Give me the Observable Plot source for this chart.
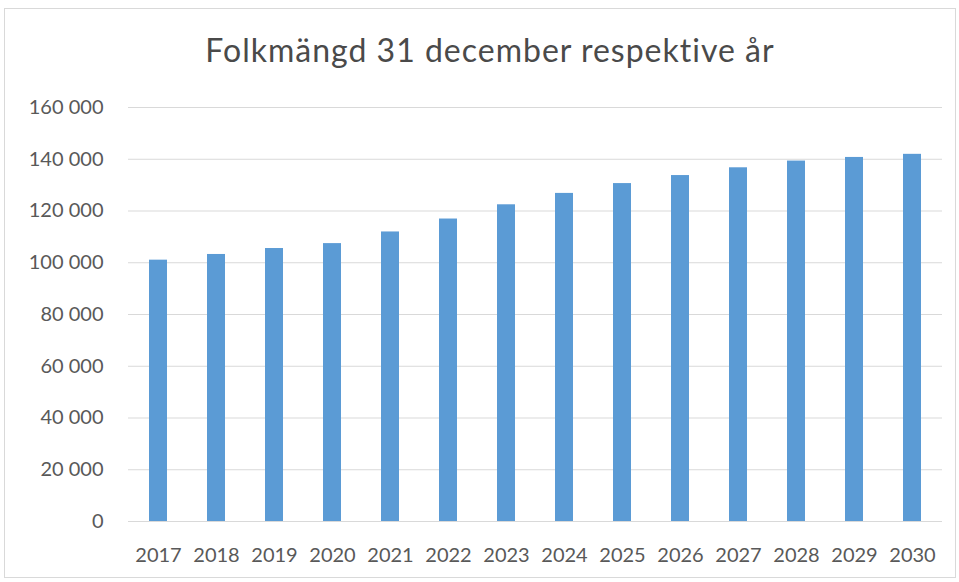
<!DOCTYPE html>
<html>
<head>
<meta charset="utf-8">
<script src="https://cdn.jsdelivr.net/npm/d3@7"></script>
<script src="https://cdn.jsdelivr.net/npm/@observablehq/plot@0.6"></script>
<style>
  html, body { margin: 0; padding: 0; background: #fff; }
  #frame { position: absolute; left: 4px; top: 8px; width: 952px; height: 570px; border: 1px solid #d9d9d9; box-sizing: border-box; }
  #title { position: absolute; left: 0; top: 34px; width: 980px; text-align: center; font-family: Lato, sans-serif; font-size: 32px; line-height: 32px; letter-spacing: 1px; color: #4a4a4a; }
  #chart { position: absolute; left: 0; top: 90px; }
</style>
</head>
<body>
<div id="frame"></div>
<div id="title">Folkmängd 31 december respektive år</div>
<div id="chart"></div>
<script>
const years = ["2017","2018","2019","2020","2021","2022","2023","2024","2025","2026","2027","2028","2029","2030"];
const population = [101000, 103200, 105500, 107400, 111900, 116900, 122400, 126800, 130600, 133700, 136700, 139300, 140700, 141900];
const yTicks = [0, 20000, 40000, 60000, 80000, 100000, 120000, 140000, 160000];

const data = years.map((y, i) => ({year: y, value: population[i]}));
const fmt = d => d3.format(",")(d).replace(/,/g, " ");

const plot = Plot.plot({
  width: 959,
  height: 482,
  marginTop: 17,
  marginLeft: 128,
  marginRight: 17,
  marginBottom: 51,
  style: { fontFamily: "Lato, sans-serif", fontSize: "20px", color: "#595959", background: "transparent" },
  x: { domain: years, paddingInner: 0.69, paddingOuter: 0.345, label: null, tickSize: 0, tickPadding: 26 },
  y: { domain: [0, 160000], ticks: yTicks, tickFormat: fmt, label: null, tickSize: 0, tickPadding: 25 },
  marks: [
    Plot.gridY(yTicks, { stroke: "#d9d9d9", strokeOpacity: 1 }),
    Plot.barY(data, { x: "year", y: "value", fill: "#5b9bd5" })
  ]
});
document.getElementById("chart").appendChild(plot);
</script>
</body>
</html>
